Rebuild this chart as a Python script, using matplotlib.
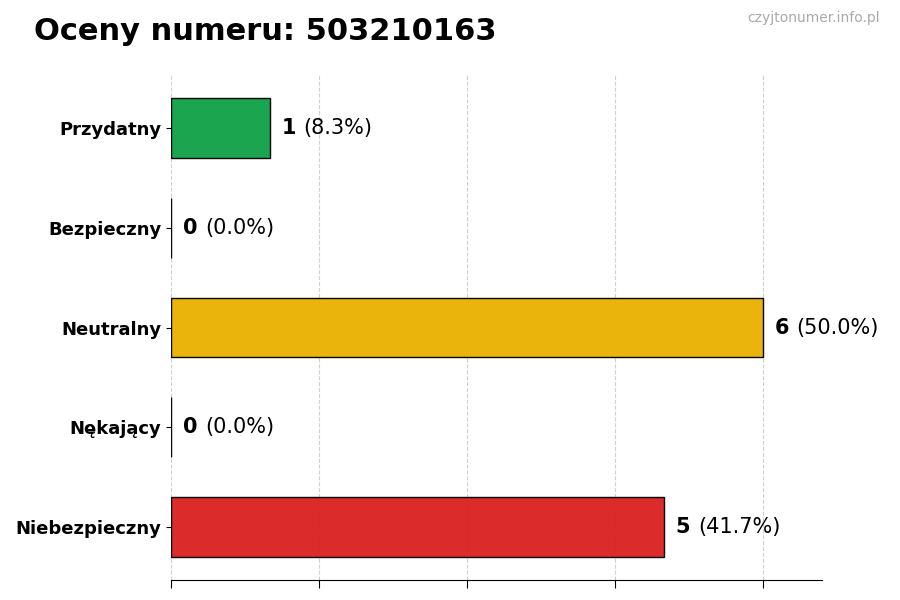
import matplotlib.pyplot as plt

categories = ["Przydatny", "Bezpieczny", "Neutralny", "Nękający", "Niebezpieczny"]
counts = [1, 0, 6, 0, 5]
colors = ["#16a34a", "#9ca3af", "#eab308", "#f97316", "#dc2626"]
phone = "503210163"

total = sum(counts)

fig = plt.figure(figsize=(9, 6), dpi=100)
ax = fig.add_axes([0.19, 0.0333, 0.723, 0.8417])

y = list(range(len(categories)))
ax.barh(y, counts, height=0.6, color=colors, edgecolor="black", linewidth=1, alpha=0.98)
ax.invert_yaxis()
ax.set_yticks(y)
ax.set_yticklabels(categories, fontsize=13, fontweight="bold")
ax.set_xlim(0, max(counts) * 1.1)
ax.set_xticks([0, 1.5, 3, 4.5, 6])
ax.set_xticklabels([])
ax.tick_params(axis="x", length=6)

ax.set_axisbelow(True)
ax.grid(axis="x", linestyle="--", color="#d0d0d0", linewidth=0.8)
for s in ["top", "right", "left"]:
    ax.spines[s].set_visible(False)

for i, v in enumerate(counts):
    pct = v / total * 100
    t = ax.text(v + 0.12, i, str(v), va="center", ha="left", fontsize=15, fontweight="bold")
    ax.annotate(f"({pct:.1f}%)", xy=(1, 0.5), xycoords=t, xytext=(5.5, 0),
                textcoords="offset points", va="center", ha="left", fontsize=15)

fig.text(0.038, 0.948, f"Oceny numeru: {phone}", fontsize=22, fontweight="bold", va="center")
fig.text(0.978, 0.97, "czyjtonumer.info.pl", fontsize=10, color="#aaaaaa", ha="right", va="center")

fig.savefig("out.png")
